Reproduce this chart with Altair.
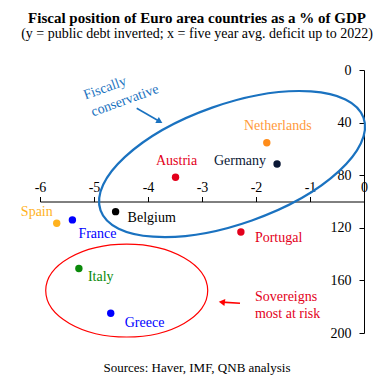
import altair as alt
import pandas as pd

# ---- data ----
countries = ["Netherlands", "Germany", "Austria", "Belgium", "Spain",
             "France", "Italy", "Greece", "Portugal"]
deficit = [-1.80, -1.61, -3.49, -4.60, -5.69, -5.40, -5.28, -4.69, -2.28]
debt = [55.3, 71.5, 81.6, 107.7, 116.6, 114.0, 151.0, 185.0, 123.2]
point_colors = ["#FF8C1A", "#0B1836", "#E3001B", "#000000", "#FFB21E",
                "#0000FF", "#0A8A0A", "#0000FF", "#E3001B"]
label_colors = ["#FF9A3C", "#0B1836", "#E3001B", "#000000", "#FFB21E",
                "#0000FF", "#0A8A0A", "#0000FF", "#E3001B"]
x_ticks = [-6, -5, -4, -3, -2, -1, 0]
y_ticks = [0, 40, 80, 120, 160, 200]

# label placement (style)
label_align = ["center", "right", "center", "left", "right", "left", "left", "left", "left"]
label_dx = [11, -11, 1, 12, -4, 6, 9, 14, 14]
label_dy = [-17, -3, -16, 6, -11, 14, 8, 10, 6]

FONT = "Liberation Serif"
BLUE = "#1A72C0"
RED = "#FF0000"
RED_TXT = "#E3001B"

df = pd.DataFrame({"country": countries, "x": deficit, "y": debt,
                   "color": point_colors})

xs = alt.Scale(domain=[-6, 0], nice=False, zero=False)
ys = alt.Scale(domain=[0, 200], nice=False, zero=False, reverse=True)
W, H = 324, 263

xaxis = alt.Axis(orient="top", offset=-H * 100 / 200, values=x_ticks, title=None,
                 grid=False, labelFont=FONT, labelFontSize=14, labelColor="black",
                 labelExpr="'' + datum.value",
                 domainColor="black", tickColor="black", tickSize=5, labelPadding=2,
                 labelFlush=False, labelOverlap=False)
yaxis = alt.Axis(orient="left", offset=-W, values=y_ticks, title=None,
                 grid=False, labelFont=FONT, labelFontSize=14, labelColor="black",
                 labelExpr="'' + datum.value",
                 domainColor="black", tickColor="black", tickSize=5, labelPadding=8,
                 labelFlush=False, labelOverlap=False)

X = alt.X("x:Q", scale=xs, axis=xaxis)
Y = alt.Y("y:Q", scale=ys, axis=yaxis)


def ellipse_path(r):
    k = 0.5523
    return (f"M -1 0 C -1 {-k*r} {-k} {-r} 0 {-r} C {k} {-r} 1 {-k*r} 1 0 "
            f"C 1 {k*r} {k} {r} 0 {r} C {-k} {r} -1 {k*r} -1 0 Z")


layers = []

# ellipses
blue_ell = alt.Chart(pd.DataFrame({"x": [-2.444], "y": [71.5]})).mark_point(
    shape=ellipse_path(0.429), filled=False, stroke=BLUE, strokeWidth=2.2,
    opacity=1, size=77730, angle=340.6).encode(x=X, y=Y)
red_ell = alt.Chart(pd.DataFrame({"x": [-4.394], "y": [167.7]})).mark_point(
    shape=ellipse_path(0.574), filled=False, stroke=RED, strokeWidth=1.2,
    opacity=1, size=26244).encode(x=X, y=Y)
layers += [blue_ell, red_ell]

# arrows
blue_arrow = alt.Chart(pd.DataFrame({"x": [-4.209], "y": [29.1], "x2": [-3.783], "y2": [39.2]})
                       ).mark_rule(color=BLUE, strokeWidth=1.6).encode(
    x=X, y=Y, x2="x2:Q", y2="y2:Q")
blue_head = alt.Chart(pd.DataFrame({"x": [-3.783], "y": [39.2]})).mark_point(
    shape="triangle-right", filled=True, color=BLUE, opacity=1, size=50, angle=30
).encode(x=X, y=Y)
red_arrow = alt.Chart(pd.DataFrame({"x": [-2.296], "y": [177.4], "x2": [-2.633], "y2": [176.5]})
                      ).mark_rule(color=RED, strokeWidth=1.6).encode(
    x=X, y=Y, x2="x2:Q", y2="y2:Q")
red_head = alt.Chart(pd.DataFrame({"x": [-2.633], "y": [176.5]})).mark_point(
    shape="triangle-left", filled=True, color=RED, opacity=1, size=50, angle=7
).encode(x=X, y=Y)
layers += [blue_arrow, blue_head, red_arrow, red_head]

# points
pts = alt.Chart(df).mark_circle(size=55, opacity=1).encode(
    x=X, y=Y, color=alt.Color("color:N", scale=None))
layers.append(pts)

# labels
for i, c in enumerate(countries):
    layers.append(
        alt.Chart(df.iloc[[i]]).mark_text(
            align=label_align[i], baseline="middle", dx=label_dx[i], dy=label_dy[i],
            font=FONT, fontSize=14, color=label_colors[i]
        ).encode(x=X, y=Y, text="country:N")
    )

# annotations
fiscal = alt.Chart(pd.DataFrame({"x": [-4.796, -4.426], "y": [13.9, 23.3],
                                 "t": ["Fiscally", "conservative"]})).mark_text(
    font=FONT, fontSize=14, color=BLUE, angle=340, align="center", baseline="middle"
).encode(x=X, y=Y, text="t:N")
sov = alt.Chart(pd.DataFrame({"x": [-2.019, -2.019], "y": [172.9, 185.8],
                              "t": ["Sovereigns", "most at risk"]})).mark_text(
    font=FONT, fontSize=14, color=RED_TXT, align="left", baseline="middle"
).encode(x=X, y=Y, text="t:N")
src = alt.Chart(pd.DataFrame({"x": [-3.093], "y": [226.6],
                              "t": ["Sources: Haver, IMF, QNB analysis"]})).mark_text(
    font=FONT, fontSize=13, color="black", align="center", baseline="middle"
).encode(x=X, y=Y, text="t:N")
layers += [fiscal, sov, src]

chart = alt.layer(*layers).properties(
    width=W, height=H,
    autosize=alt.AutoSizeParams(type="none"),
    padding={"left": 32, "top": 62, "right": 17, "bottom": 46},
    title=alt.TitleParams(
        text="Fiscal position of Euro area countries as a % of GDP",
        subtitle="(y = public debt inverted; x = five year avg. deficit up to 2022)",
        font=FONT, fontSize=15, fontWeight="bold", color="black",
        subtitleFont=FONT, subtitleFontSize=14, subtitleColor="black",
        anchor="middle", dx=-5, offset=22, subtitlePadding=1),
).configure(background="white", view=alt.ViewConfig(stroke=None))

chart.save("out.html", embed_options={"renderer": "svg", "actions": False})
